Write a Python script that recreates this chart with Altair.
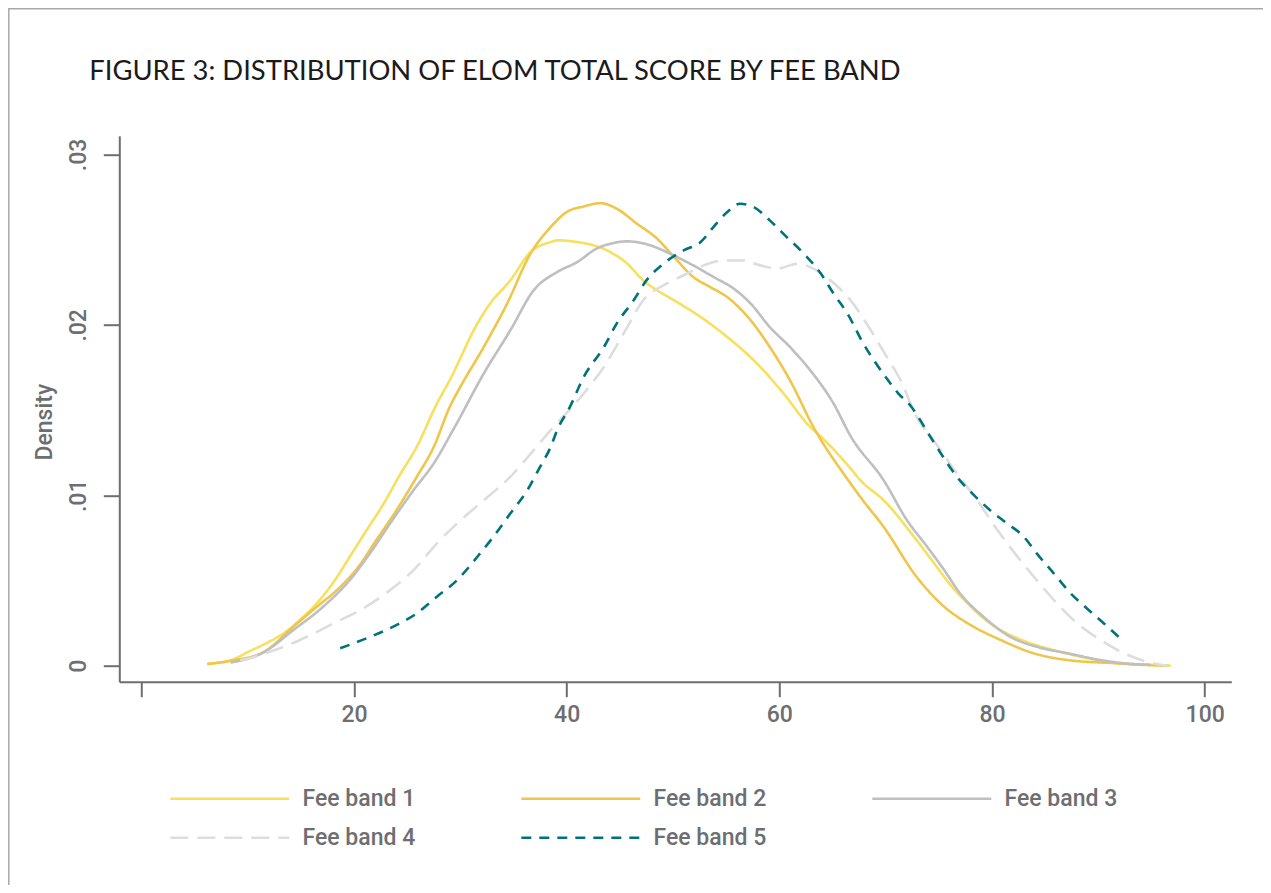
import altair as alt
import pandas as pd

# ---- data (score, density) ----
bands = ["Fee band 1", "Fee band 2", "Fee band 3", "Fee band 4", "Fee band 5"]

band1_x = [6.2, 8.4, 10.2, 12.0, 13.4, 14.9, 16.5, 18.1, 19.6, 21.2,
           22.8, 24.3, 25.9, 27.8, 29.0, 31.6, 32.8, 34.7, 36.6,
           38.5, 39.2, 41.0, 42.2, 44.1, 45.7, 47.2, 48.5, 50.1, 52.6,
           55.1, 57.9, 60.4, 62.9, 63.6, 66.7, 67.6, 69.8, 72.9, 74.8,
           76.1, 77.7, 79.2, 80.8, 82.4, 85.5, 88.6, 91.8, 94.9, 96.8]
band1_y = [0.00010, 0.00032, 0.00085, 0.00140, 0.00190, 0.00268, 0.00366, 0.00492, 0.00639, 0.00796,
           0.00952, 0.01118, 0.01284, 0.01538, 0.01675, 0.02007, 0.02125, 0.02261, 0.02427,
           0.02486, 0.02496, 0.02486, 0.02472, 0.02427, 0.02359, 0.02261, 0.02203, 0.02144, 0.02046,
           0.01929, 0.01773, 0.01597, 0.01401, 0.01362, 0.01157, 0.01089, 0.00971, 0.00737, 0.00580,
           0.00473, 0.00366, 0.00278, 0.00209, 0.00161, 0.00096, 0.00049, 0.00014, 0.00003, 0.00000]

band2_x = [6.2, 8.4, 11.5, 14.3, 16.5, 18.4, 20.3, 22.1, 24.0, 25.9,
           27.5, 29.0, 30.0, 32.2, 34.4, 36.6, 38.5, 40.0, 41.6, 43.2,
           44.7, 46.6, 48.5, 50.1, 51.9, 53.5, 55.1, 57.3, 59.1, 61.0,
           63.2, 66.7, 67.6, 69.8, 72.9, 75.5, 77.7, 80.8, 83.9, 87.1,
           91.8, 96.5]
band2_y = [0.00010, 0.00029, 0.00080, 0.00229, 0.00346, 0.00444, 0.00571, 0.00737, 0.00913, 0.01108,
           0.01284, 0.01518, 0.01636, 0.01870, 0.02125, 0.02418, 0.02574, 0.02662, 0.02695, 0.02714,
           0.02682, 0.02594, 0.02506, 0.02398, 0.02281, 0.02222, 0.02163, 0.02027, 0.01870, 0.01675,
           0.01401, 0.01069, 0.00991, 0.00815, 0.00522, 0.00346, 0.00249, 0.00151, 0.00073, 0.00033,
           0.00014, 0.00000]

band3_x = [8.4, 11.5, 14.3, 17.1, 19.6, 21.5, 23.4, 25.6, 27.5, 29.4,
           32.2, 34.7, 36.9, 39.1, 41.0, 42.8, 44.1, 45.7, 47.9, 49.7,
           51.9, 53.8, 55.7, 57.3, 59.1, 61.0, 62.9, 65.1, 66.7, 69.8,
           72.0, 73.9, 75.5, 77.0, 79.2, 81.7, 84.2, 87.1, 90.2, 92.4,
           94.9]
band3_y = [0.00018, 0.00078, 0.00209, 0.00346, 0.00502, 0.00659, 0.00835, 0.01030, 0.01187, 0.01392,
           0.01714, 0.01968, 0.02203, 0.02310, 0.02369, 0.02447, 0.02476, 0.02490, 0.02466, 0.02418,
           0.02349, 0.02281, 0.02213, 0.02125, 0.01987, 0.01870, 0.01734, 0.01538, 0.01347, 0.01089,
           0.00854, 0.00698, 0.00561, 0.00424, 0.00287, 0.00170, 0.00111, 0.00073, 0.00033, 0.00014,
           0.00004]

band4_x = [9.3, 11.2, 13.4, 15.9, 18.4, 20.9, 23.4, 25.6, 27.8, 29.7,
           32.2, 34.7, 36.9, 38.5, 41.6, 43.5, 45.7, 47.2, 49.4, 51.0,
           52.9, 54.8, 56.6, 58.2, 59.8, 61.7, 62.9, 64.8, 66.7, 68.6,
           70.1, 71.4, 72.9, 74.5, 76.7, 78.6, 80.5, 82.4, 84.2, 86.1,
           88.0, 90.2, 92.4, 94.6, 96.5]
band4_y = [0.00030, 0.00063, 0.00111, 0.00180, 0.00258, 0.00337, 0.00444, 0.00561, 0.00718, 0.00835,
           0.00971, 0.01108, 0.01265, 0.01382, 0.01597, 0.01753, 0.01987, 0.02144, 0.02242, 0.02291,
           0.02349, 0.02378, 0.02378, 0.02349, 0.02330, 0.02359, 0.02339, 0.02261, 0.02144, 0.01968,
           0.01812, 0.01675, 0.01460, 0.01323, 0.01128, 0.00971, 0.00796, 0.00639, 0.00502, 0.00366,
           0.00249, 0.00151, 0.00073, 0.00023, 0.00000]

band5_x = [18.7, 21.2, 23.7, 25.9, 27.8, 29.7, 31.6, 33.1, 34.7, 36.3,
           37.5, 38.5, 39.1, 40.3, 41.6, 43.5, 44.7, 46.3, 47.5, 49.1,
           51.0, 52.6, 53.8, 55.1, 56.3, 57.6, 59.1, 60.7, 62.3, 63.9,
           65.1, 66.4, 67.9, 69.0, 70.1, 71.2, 72.3, 74.2, 75.5, 76.7,
           78.3, 79.8, 81.4, 83.0, 84.2, 85.8, 87.4, 88.9, 90.5, 92.4]
band5_y = [0.00102, 0.00161, 0.00229, 0.00307, 0.00405, 0.00502, 0.00639, 0.00756, 0.00893, 0.01030,
           0.01167, 0.01284, 0.01382, 0.01518, 0.01694, 0.01870, 0.02007, 0.02144, 0.02261, 0.02359,
           0.02437, 0.02486, 0.02574, 0.02662, 0.02711, 0.02691, 0.02613, 0.02515, 0.02418, 0.02301,
           0.02183, 0.02066, 0.01890, 0.01782, 0.01685, 0.01597, 0.01528, 0.01343, 0.01216, 0.01108,
           0.01001, 0.00913, 0.00835, 0.00756, 0.00659, 0.00542, 0.00424, 0.00337, 0.00249, 0.00141]

x_ticks = [0, 20, 40, 60, 80, 100]
y_ticks = [0, 0.01, 0.02, 0.03]
title_text = "FIGURE 3: DISTRIBUTION OF ELOM TOTAL SCORE BY FEE BAND"

# ---- styles ----
colors = ["#F6E05E", "#F0C64A", "#BEBFC1", "#DCDDDF", "#00727B"]
dashes = [[1, 0], [1, 0], [1, 0], [18, 9], [10, 8]]
GRAY = "#6D6E71"
FONT = "Roboto"

rows = []
for name, xs, ys in zip(bands,
                        [band1_x, band2_x, band3_x, band4_x, band5_x],
                        [band1_y, band2_y, band3_y, band4_y, band5_y]):
    for i, (a, b) in enumerate(zip(xs, ys)):
        rows.append({"band": name, "score": a, "density": b, "order": i})
df = pd.DataFrame(rows)

legend = alt.Legend(
    title=None, orient="none", legendX=49.5, legendY=651, direction="horizontal",
    columns=3, symbolType="stroke", symbolSize=14161, symbolStrokeWidth=2.6,
    clipHeight=24, rowPadding=15, columnPadding=104, labelOffset=11.75,
    labelFont=FONT, labelFontSize=23, labelFontWeight=500, labelColor=GRAY,
    padding=0,
)

lines = alt.Chart(df).mark_line(strokeWidth=2.6, interpolate="monotone").encode(
    x=alt.X("score:Q",
            scale=alt.Scale(domain=[-2.07, 102.5], nice=False, zero=False),
            axis=alt.Axis(values=x_ticks, title=None,
                          labelExpr="datum.value == 0 ? '' : datum.label",
                          tickSize=15, tickWidth=2, tickColor=GRAY,
                          domainColor=GRAY, domainWidth=2, grid=False,
                          labelFont=FONT, labelFontSize=23, labelFontWeight=500,
                          labelColor=GRAY, labelPadding=7)),
    y=alt.Y("density:Q",
            scale=alt.Scale(domain=[-0.00094, 0.0311], nice=False, zero=False),
            axis=alt.Axis(values=y_ticks,
                          labelExpr="datum.value == 0 ? '0' : replace(format(datum.value, '.2f'), '0.', '.')",
                          labelAngle=270, labelAlign="center", labelBaseline="middle",
                          labelPadding=24.5, tickSize=16, tickWidth=2, tickColor=GRAY,
                          domainColor=GRAY, domainWidth=2, grid=False,
                          labelFont=FONT, labelFontSize=23, labelFontWeight=500,
                          labelColor=GRAY,
                          title="Density", titleX=-75.3, titleY=286, titleAngle=270,
                          titleAlign="center", titleBaseline="middle",
                          titleFont=FONT, titleFontSize=23, titleFontWeight=500,
                          titleColor=GRAY)),
    color=alt.Color("band:N", scale=alt.Scale(domain=bands, range=colors), legend=legend),
    strokeDash=alt.StrokeDash("band:N", scale=alt.Scale(domain=bands, range=dashes), legend=legend),
    order="order:Q",
)

one_row = alt.Data(values=[{"label": title_text}])
frame_top = alt.Chart(one_row).mark_rule(color="#A8A8A8", strokeWidth=1.5).encode(
    x=alt.value(-111), x2=alt.value(1300), y=alt.value(-127)
)
frame_left = alt.Chart(one_row).mark_rule(color="#A8A8A8", strokeWidth=1.5).encode(
    x=alt.value(-110.5), y=alt.value(-128), y2=alt.value(800)
)
title_mark = alt.Chart(one_row).mark_text(
    align="left", baseline="alphabetic", font="Lato", fontSize=27.4,
    fontWeight="normal", color="#1B1B1B",
).encode(x=alt.value(-30), y=alt.value(-55.7), text="label:N")

chart = alt.layer(lines, frame_top, frame_left, title_mark).properties(
    width=1112, height=546,
    autosize=alt.AutoSizeParams(type="none"),
    padding={"left": 111.3, "top": 127.7, "right": 31.7, "bottom": 203.3},
).configure(background="white", view=alt.ViewConfig(stroke=None))

chart.save("out.html", embed_options={"renderer": "svg", "actions": False})
